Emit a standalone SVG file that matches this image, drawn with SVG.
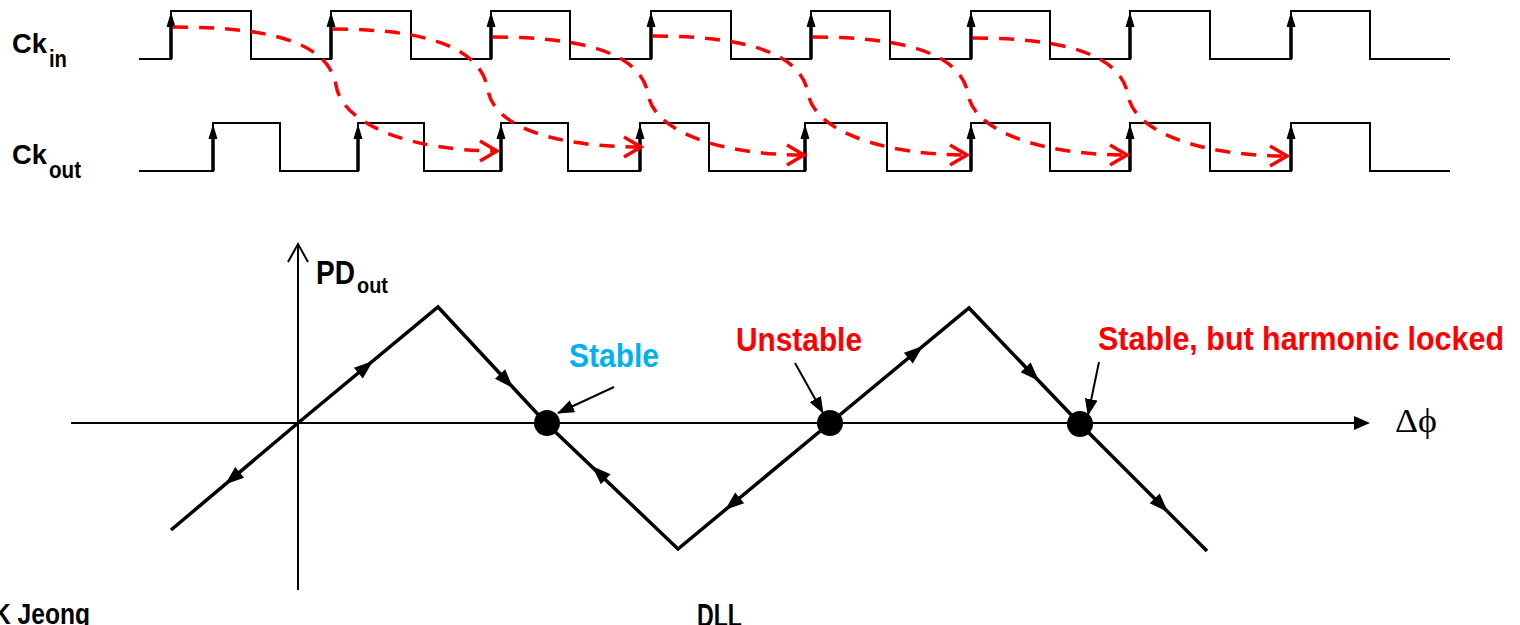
<svg xmlns="http://www.w3.org/2000/svg" xmlns:xlink="http://www.w3.org/1999/xlink" width="1520" height="625" viewBox="0 0 1520 625">
<style>
.wave{fill:none;stroke:#000;stroke-width:2}
.edge{stroke:#000;stroke-width:3.5}
.red{fill:none;stroke:#ff0000;stroke-width:3.5;stroke-dasharray:15 11}
.curve{fill:none;stroke:#000;stroke-width:3.5;stroke-linejoin:miter}
.axis{fill:none;stroke:#000;stroke-width:2}
.ann{fill:none;stroke:#000;stroke-width:2}
.lbl{font-family:"Liberation Sans Narrow","Liberation Sans",Arial,sans-serif;font-weight:bold;fill:#000}
</style>
<defs>
<path id="wah" d="M0,0 L-15,-4.5 L-15,4.5 Z" fill="#000"/>
<path id="gah" d="M0,0 L-19,-7 L-19,7 Z" fill="#000"/>
<marker id="redhead" markerUnits="userSpaceOnUse" markerWidth="24" markerHeight="26" viewBox="-20 -13 24 26" refX="0" refY="0" orient="auto">
<path d="M-17,-10 L0,0 L-17,10" fill="none" stroke="#ff0000" stroke-width="3.5"/>
</marker>
<marker id="annhead" markerUnits="userSpaceOnUse" markerWidth="17" markerHeight="13" viewBox="0 0 17 13" refX="16" refY="6.5" orient="auto">
<path d="M0,0 L17,6.5 L0,13 Z" fill="#000"/>
</marker>
</defs>

<g id="ckin">
<path class="wave" d="M139,59 H171 V11 H251 V59 H331 V11 H411 V59 H491 V11 H570 V59 H651 V11 H731 V59 H811 V11 H890 V59 H971 V11 H1050 V59 H1130 V11 H1210 V59 H1291 V11 H1370 V59 H1450"/>
<g class="edge">
<line x1="171" y1="59" x2="171" y2="25"/><line x1="331" y1="59" x2="331" y2="25"/><line x1="491" y1="59" x2="491" y2="25"/><line x1="651" y1="59" x2="651" y2="25"/><line x1="811" y1="59" x2="811" y2="25"/><line x1="971" y1="59" x2="971" y2="25"/><line x1="1130" y1="59" x2="1130" y2="25"/><line x1="1291" y1="59" x2="1291" y2="25"/>
</g>
<use xlink:href="#wah" href="#wah" transform="translate(171,12) rotate(-90)"/>
<use xlink:href="#wah" href="#wah" transform="translate(331,12) rotate(-90)"/>
<use xlink:href="#wah" href="#wah" transform="translate(491,12) rotate(-90)"/>
<use xlink:href="#wah" href="#wah" transform="translate(651,12) rotate(-90)"/>
<use xlink:href="#wah" href="#wah" transform="translate(811,12) rotate(-90)"/>
<use xlink:href="#wah" href="#wah" transform="translate(971,12) rotate(-90)"/>
<use xlink:href="#wah" href="#wah" transform="translate(1130,12) rotate(-90)"/>
<use xlink:href="#wah" href="#wah" transform="translate(1291,12) rotate(-90)"/>
<text class="lbl" x="12" y="53" font-size="28" textLength="35" lengthAdjust="spacingAndGlyphs">Ck</text>
<text class="lbl" x="49" y="67" font-size="23" textLength="18" lengthAdjust="spacingAndGlyphs">in</text>
</g>

<g id="ckout">
<path class="wave" d="M139,171 H213 V123 H280 V171 H358 V123 H424 V171 H501 V123 H568 V171 H640 V123 H709 V171 H805 V123 H887 V171 H971 V123 H1050 V171 H1130 V123 H1210 V171 H1291 V123 H1370 V171 H1450"/>
<g class="edge">
<line x1="213" y1="171" x2="213" y2="137"/><line x1="358" y1="171" x2="358" y2="137"/><line x1="501" y1="171" x2="501" y2="137"/><line x1="640" y1="171" x2="640" y2="137"/><line x1="805" y1="171" x2="805" y2="137"/><line x1="971" y1="171" x2="971" y2="137"/><line x1="1130" y1="171" x2="1130" y2="137"/><line x1="1291" y1="171" x2="1291" y2="137"/>
</g>
<use xlink:href="#wah" href="#wah" transform="translate(213,124) rotate(-90)"/>
<use xlink:href="#wah" href="#wah" transform="translate(358,124) rotate(-90)"/>
<use xlink:href="#wah" href="#wah" transform="translate(501,124) rotate(-90)"/>
<use xlink:href="#wah" href="#wah" transform="translate(640,124) rotate(-90)"/>
<use xlink:href="#wah" href="#wah" transform="translate(805,124) rotate(-90)"/>
<use xlink:href="#wah" href="#wah" transform="translate(971,124) rotate(-90)"/>
<use xlink:href="#wah" href="#wah" transform="translate(1130,124) rotate(-90)"/>
<use xlink:href="#wah" href="#wah" transform="translate(1291,124) rotate(-90)"/>
<text class="lbl" x="12" y="164" font-size="28" textLength="35" lengthAdjust="spacingAndGlyphs">Ck</text>
<text class="lbl" x="49" y="178" font-size="23" textLength="32" lengthAdjust="spacingAndGlyphs">out</text>
</g>

<g id="delay-connectors">
<path class="red" marker-end="url(#redhead)" d="M173,27 C270,27 328,42 336,85 C342,125 412,151 497,151"/>
<path class="red" marker-end="url(#redhead)" d="M333,29 C428,29 481,48 488,90 C494,128 558,147 641,147"/>
<path class="red" marker-end="url(#redhead)" d="M493,37 C588,37 641,55 648,94 C654,132 721,155 804,155"/>
<path class="red" marker-end="url(#redhead)" d="M653,36 C748,36 801,54 808,93 C814,131 883,155 967,155"/>
<path class="red" marker-end="url(#redhead)" d="M813,37 C908,37 961,55 968,94 C974,132 1043,155 1127,155"/>
<path class="red" marker-end="url(#redhead)" d="M973,38 C1068,38 1121,56 1128,95 C1134,133 1203,156 1287,156"/>
</g>

<g id="axes">
<line class="axis" x1="71" y1="423" x2="1356" y2="423"/>
<path d="M1370,423 L1354,416 L1354,430 Z" fill="#000"/>
<line class="axis" x1="298" y1="590" x2="298" y2="245"/>
<path class="axis" d="M288,262 L298,244 L308,262"/>
<text class="lbl" x="316" y="284" font-size="34" textLength="39" lengthAdjust="spacingAndGlyphs">PD</text>
<text class="lbl" x="357" y="293" font-size="22" textLength="31" lengthAdjust="spacingAndGlyphs">out</text>
<text x="1395" y="432" font-family="'Liberation Serif','DejaVu Serif',serif" font-size="34" fill="#000" textLength="42" lengthAdjust="spacingAndGlyphs">Δϕ</text>
</g>

<g id="pd-curve">
<path class="curve" d="M171,530 L298,423 L438,307 L546,423 L678,549 L830,423 L969,308 L1080,424 L1207,551"/>
<use xlink:href="#gah" href="#gah" transform="translate(373,361) rotate(-39.6)"/>
<use xlink:href="#gah" href="#gah" transform="translate(225,484.5) rotate(140.4)"/>
<use xlink:href="#gah" href="#gah" transform="translate(513,388) rotate(47.1)"/>
<use xlink:href="#gah" href="#gah" transform="translate(592,466) rotate(-136.1)"/>
<use xlink:href="#gah" href="#gah" transform="translate(725,510) rotate(140.4)"/>
<use xlink:href="#gah" href="#gah" transform="translate(923,346) rotate(-39.6)"/>
<use xlink:href="#gah" href="#gah" transform="translate(1039,381) rotate(45.6)"/>
<use xlink:href="#gah" href="#gah" transform="translate(1168,512) rotate(45.6)"/>
</g>

<g id="stable">
<circle cx="547" cy="423" r="13" fill="#000"/>
<line class="ann" x1="614" y1="387" x2="558" y2="413" marker-end="url(#annhead)"/>
<text class="lbl" x="569" y="367" font-size="34" style="fill:#00b0f0" textLength="90" lengthAdjust="spacingAndGlyphs">Stable</text>
</g>

<g id="unstable">
<circle cx="830" cy="423" r="13" fill="#000"/>
<line class="ann" x1="795" y1="363" x2="823" y2="413" marker-end="url(#annhead)"/>
<text class="lbl" x="736" y="351" font-size="34" style="fill:#ff0000" textLength="126" lengthAdjust="spacingAndGlyphs">Unstable</text>
</g>

<g id="harmonic">
<circle cx="1080" cy="424" r="13" fill="#000"/>
<line class="ann" x1="1099" y1="362" x2="1088" y2="415" marker-end="url(#annhead)"/>
<text class="lbl" x="1098" y="350" font-size="34" style="fill:#ff0000" textLength="406" lengthAdjust="spacingAndGlyphs">Stable, but harmonic locked</text>
</g>

<g id="footer">
<text class="lbl" x="-7" y="624" font-size="29" textLength="97" lengthAdjust="spacingAndGlyphs">K Jeong</text>
<text class="lbl" x="697" y="627" font-size="33" textLength="45" lengthAdjust="spacingAndGlyphs">DLL</text>
</g>
</svg>
